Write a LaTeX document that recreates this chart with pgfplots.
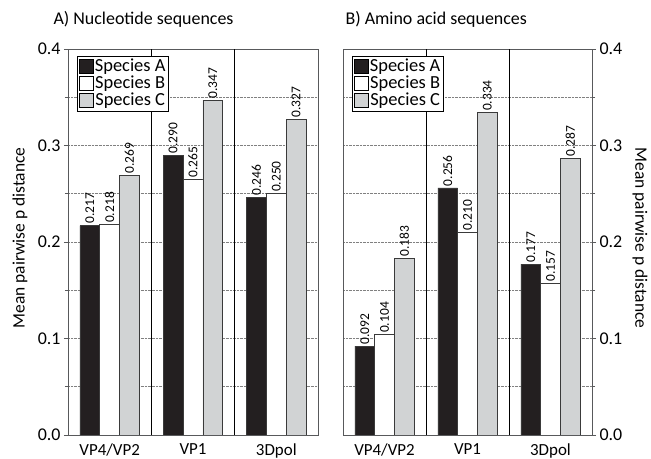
\documentclass[border=0pt]{standalone}
\usepackage{pgfplots}
\pgfplotsset{compat=1.18}
\usepackage{fontspec}
\setmainfont{Carlito}
\definecolor{barA}{HTML}{231F20}
\definecolor{barC}{HTML}{D1D3D4}
\definecolor{axgray}{HTML}{58595B}
\definecolor{edge}{HTML}{3A3A3A}
\pgfplotsset{
  panel/.style={
    scale only axis, height=386bp, anchor=south west,
    ybar=0pt, bar width=0.238,
    xmin=-0.5, xmax=2.5, ymin=0, ymax=0.4,
    xtick={0,1,2}, xticklabels={VP4/VP2,VP1,3Dpol},
    xtick pos=bottom,
    major x tick style={draw=none},
    ytick={0,0.1,0.2,0.3,0.4},
    minor ytick={0.05,0.15,0.25,0.35},
    yticklabel style={font=\fontsize{18}{18}\selectfont, /pgf/number format/.cd, fixed, fixed zerofill, precision=1},
    ymajorgrids, yminorgrids,
    major grid style={densely dotted, gray, line width=0.8pt},
    minor grid style={densely dotted, gray, line width=0.8pt},
    tick align=outside, major tick length=4bp, minor tick length=3bp,
    tick style={axgray, line width=0.8pt},
    axis line style={axgray, line width=0.9pt},
    /pgf/number format/assume math mode=true,
    xticklabel style={font=\fontsize{17}{17}\selectfont, yshift=-1bp},
    nodes near coords={\pgfmathprintnumber[fixed,fixed zerofill,precision=3]{\pgfplotspointmeta}},
    nodes near coords style={rotate=90, anchor=west, inner sep=1.5bp, font=\fontsize{13.5}{13.5}\selectfont},
    extra x ticks={0.5,1.5}, extra x tick labels={},
    extra x tick style={grid=major, major grid style={solid, black, line width=0.8pt}, major tick length=0pt},
    legend style={anchor=north west, draw=black, line width=0.6pt,
      font=\fontsize{18.5}{18.5}\selectfont, row sep=0bp, inner sep=2bp,
      nodes={inner sep=1bp, text height=12bp, text depth=3bp},
      /tikz/every even column/.append style={column sep=1.5bp}},
    legend image code/.code={\draw[#1, draw=black, line width=0.6pt] (0bp,-7bp) rectangle (14bp,7bp);},
  }
}
\begin{document}
\begin{tikzpicture}
\path[use as bounding box] (0,0) rectangle (651bp,459bp);
\node[anchor=base west, font=\fontsize{18}{18}\selectfont] at (50bp,434bp) {A) Nucleotide sequences};
\node[anchor=base west, font=\fontsize{18}{18}\selectfont] at (342bp,434bp) {B) Amino acid sequences};
\node[rotate=90, font=\fontsize{17.5}{17.5}\selectfont] at (20bp,221bp) {Mean pairwise p distance};
\node[rotate=-90, font=\fontsize{17.5}{17.5}\selectfont] at (640bp,221bp) {Mean pairwise p distance};
\begin{axis}[panel, at={(68bp,24bp)}, width=250bp,
  ytick pos=left,
  legend style={at={(0.036,0.982)}}]
\addplot[fill=barA, draw=edge, line width=0.6pt] coordinates {(0,0.217) (1,0.290) (2,0.246)};
\addplot[fill=white, draw=edge, line width=0.6pt] coordinates {(0,0.218) (1,0.265) (2,0.250)};
\addplot[fill=barC, draw=edge, line width=0.6pt] coordinates {(0,0.269) (1,0.347) (2,0.327)};
\legend{Species A, Species B, Species C}
\end{axis}
\begin{axis}[panel, at={(343bp,24bp)}, width=249bp,
  ytick pos=right, yticklabel pos=right,
  legend style={at={(0.036,0.982)}}]
\addplot[fill=barA, draw=edge, line width=0.6pt] coordinates {(0,0.092) (1,0.256) (2,0.177)};
\addplot[fill=white, draw=edge, line width=0.6pt] coordinates {(0,0.104) (1,0.210) (2,0.157)};
\addplot[fill=barC, draw=edge, line width=0.6pt] coordinates {(0,0.183) (1,0.334) (2,0.287)};
\legend{Species A, Species B, Species C}
\end{axis}
\end{tikzpicture}
\end{document}
